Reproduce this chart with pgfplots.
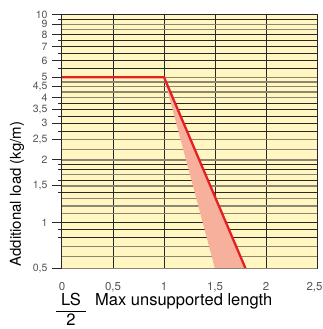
\documentclass[border=0pt]{standalone}
\usepackage{pgfplots}
\pgfplotsset{compat=1.18}
\usepackage{fontspec}
\setmainfont{TeX Gyre Heros}
\definecolor{bgyellow}{RGB}{255,246,194}
\definecolor{griddark}{RGB}{40,40,40}
\definecolor{gridgray}{RGB}{140,134,112}
\definecolor{redline}{RGB}{232,30,37}
\definecolor{shade}{RGB}{246,176,156}
\definecolor{ticktext}{RGB}{85,85,85}
\begin{document}
\begin{tikzpicture}
\useasboundingbox (-62pt,-60.4pt) rectangle (260pt,268.6pt);
\begin{axis}[
  at={(0pt,0pt)}, anchor=south west,
  scale only axis, width=255pt, height=253.9pt,
  xmin=0, xmax=2.5, ymin=0.5, ymax=10,
  y coord trafo/.code={\pgfmathparse{#1<1 ? 0.738*ln(#1) : ln(#1)}},
  y coord inv trafo/.code={\pgfmathparse{#1<0 ? exp(#1/0.738) : exp(#1)}},
  axis background/.style={fill=bgyellow},
  axis line style={griddark, line width=1pt},
  xtick={0,0.5,1,1.5,2,2.5},
  xticklabels={0,{0,5},1,{1,5},2,{\hspace*{-5pt}2,5}},
  xmajorgrids, major x grid style={griddark, line width=1pt},
  xtick style={draw=none},
  ytick={0.5,1,1.5,2,2.5,3,3.5,4,4.5,5,6,7,8,9,10},
  yticklabels={{0,5},1,{1,5},2,{2,5},3,{3,5},4,{\raisebox{-1.2pt}{4,5}},{\raisebox{1.5pt}{5}},6,7,8,9,10},
  minor ytick={0.8,0.9,1,1.4,1.6,1.8,1.9,2.75,3,3.25,3.5,3.75,5.5,6,6.5,7,7.5,8,9.5},
  yminorgrids, minor y grid style={griddark, line width=0.9pt},
  ymajorgrids=false,
  extra y ticks={0.6,0.7,1.1,1.2,1.3,1.5,1.7,2,2.25,2.5,4,4.25,4.5,4.75,5,8.5,9},
  extra y tick labels={},
  extra y tick style={grid=major, major grid style={gridgray, line width=1.3pt}, major tick length=0pt},
  ytick pos=left,
  tick align=outside,
  major tick length=10pt, minor tick length=4pt,
  ytick style={griddark, line width=0.9pt},
  ticklabel style={font=\fontsize{11.5}{13}\selectfont, text=ticktext},
  yticklabel style={xshift=-1pt, font=\fontsize{10.5}{12}\selectfont, inner ysep=0pt},
  xticklabel style={yshift=0pt},
]
\addplot[fill=shade, draw=none] coordinates {(1,5) (1.5,0.5) (1.8,0.5)} -- cycle;
\addplot[redline, line width=2.3pt] coordinates {(0,5) (1,5) (1.8,0.5)};
\end{axis}
\draw[gridgray, line width=1.3pt] (0pt,0pt) -- (255pt,0pt);
\node[rotate=90, anchor=base west, inner sep=0pt, font=\fontsize{15}{18}\selectfont] at (-41pt,1.9pt) {Additional load (kg/m)};
\node[anchor=base west, inner sep=0pt, font=\fontsize{16.5}{19}\selectfont] at (33pt,-36.4pt) {Max unsupported length};
\node[anchor=base, inner sep=0pt, font=\fontsize{16.5}{19}\selectfont] at (9pt,-36.4pt) {\setlength{\arrayrulewidth}{1pt}\begin{tabular}[t]{@{\hspace{5pt}}c@{\hspace{5pt}}}LS\\\hline 2\end{tabular}};
\end{tikzpicture}
\end{document}
